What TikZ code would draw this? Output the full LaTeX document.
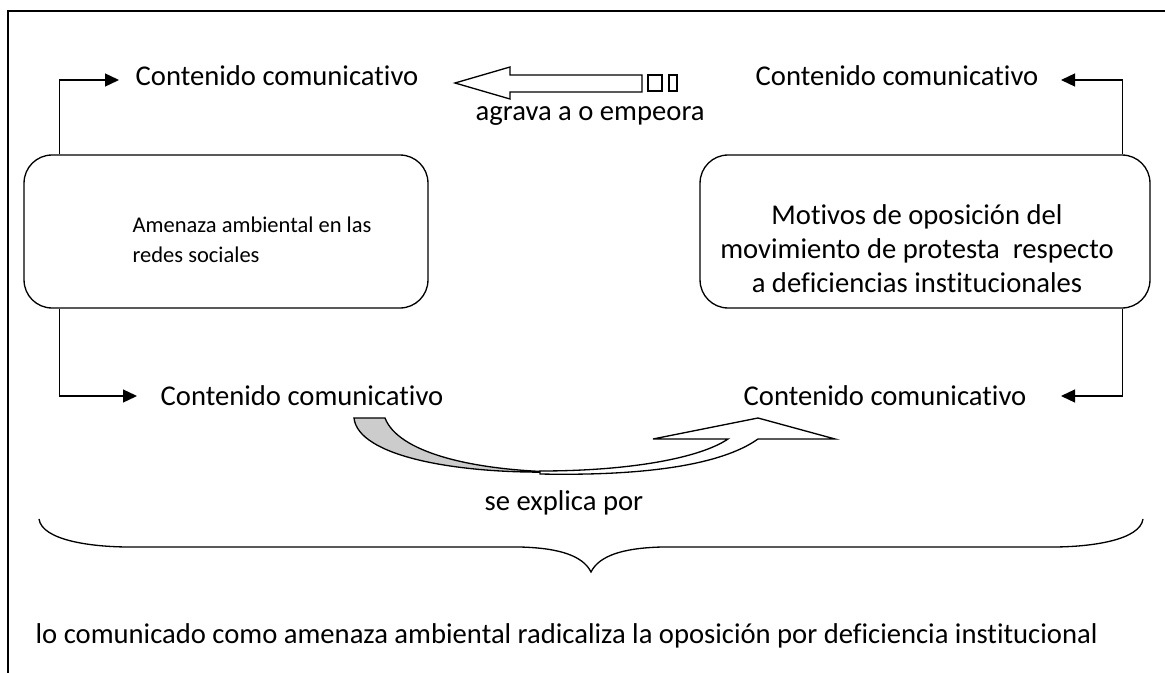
\documentclass[tikz,border=0pt]{standalone}
\usepackage{fontspec}
\setmainfont{Carlito}[Ligatures=NoCommon]
\usetikzlibrary{arrows.meta,calc}
\tikzset{
  lbl/.style={inner sep=0pt, font=\fontsize{16.3}{19.4}\selectfont},
  box/.style={draw, rounded corners=0.56cm, minimum height=3.06cm},
  conn/.style={-{Triangle[length=0.28cm,width=0.26cm]}},
}
\begin{document}
\begin{tikzpicture}[x=0.02cm, y=-0.02cm, line width=0.75pt]
  \useasboundingbox (0,0) rectangle (1165,672);
  % frame
  \draw[line width=0.9pt] (8,690) |- (1185,11);

  % boxes
  \node[box, minimum width=8.08cm] (boxL) at (226,231.5) {};
  \node[box, minimum width=9cm] (boxR) at (925,231.5) {};
  \node[lbl, font=\fontsize{12.8}{17}\selectfont, align=left, anchor=north west] (txtL) at (132,216)
    {Amenaza ambiental en las\\redes sociales};
  \node[lbl, align=center, anchor=north] (txtR) at (917,204)
    {Motivos de oposición del\\movimiento de protesta~ respecto\\a deficiencias institucionales};

  % labels
  \node[lbl, anchor=base west] (ccTL) at (135,86) {Contenido comunicativo};
  \node[lbl, anchor=base east] (ccTR) at (1039,86) {Contenido comunicativo};
  \node[lbl, anchor=base west] (ccBL) at (160,405) {Contenido comunicativo};
  \node[lbl, anchor=base east] (ccBR) at (1027,405) {Contenido comunicativo};
  \node[lbl, anchor=base west] (agrava) at (475,121) {agrava a o empeora};
  \node[lbl, anchor=base west] (explica) at (484,510) {se explica por};
  \node[lbl, anchor=base west] (result) at (35,643)
    {lo comunicado como amenaza ambiental radicaliza la oposición por deficiencia institucional};

  % elbow arrows
  \draw[conn] ([xshift=0.72cm]boxL.north west) |- ($(ccTL.base west)+(-16,-6)$);
  \draw[conn] ([xshift=-0.56cm]boxR.north east) |- ($(ccTR.base east)+(22,-6)$);
  \draw[conn] ([xshift=0.72cm]boxL.south west) |- ($(ccBL.base west)+(-23,-9)$);
  \draw[conn] ([xshift=-0.56cm]boxR.south east) |- ($(ccBR.base east)+(34,-9)$);

  % hollow arrow
  \draw (455,83) -- (510,67) -- (510,75) -- (642,75) -- (642,92) -- (510,92) -- (510,99) -- cycle;
  \draw (648,75) rectangle (662,91);
  \draw (669,75) rectangle (677,91);

  % curved arrow
  \filldraw[fill=gray!40] (354,418) -- (385,418)
    .. controls (398,452) and (470,470) .. (557,472)
    .. controls (455,474) and (358,456) .. (354,418) -- cycle;
  \filldraw[fill=white] (540,471)
    .. controls (630,471) and (700,458) .. (728,439)
    -- (653,439) -- (758,418) -- (835,439) -- (758,439)
    .. controls (720,466) and (640,476) .. (540,474) -- cycle;

  % brace
  \draw (39,519) .. controls (42,540) and (90,547) .. (130,547) -- (520,547)
    .. controls (560,548) and (583,556) .. (591,572)
    .. controls (599,556) and (622,548) .. (662,547) -- (1052,547)
    .. controls (1092,547) and (1140,540) .. (1143,519);
\end{tikzpicture}
\end{document}
